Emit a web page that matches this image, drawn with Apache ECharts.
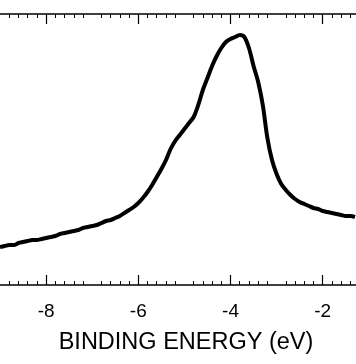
<!DOCTYPE html>
<html>
<head>
<meta charset="utf-8">
<script src="https://cdn.jsdelivr.net/npm/echarts@6/dist/echarts.min.js"></script>
<style>html,body{margin:0;padding:0;background:#fff}#c{width:356px;height:364px}</style>
</head>
<body>
<div id="c"></div>
<script>
const energy = [-9.0,-8.9,-8.8,-8.7,-8.6,-8.5,-8.4,-8.3,-8.2,-8.1,-8.0,-7.9,-7.8,-7.7,-7.6,-7.5,-7.4,-7.3,-7.2,-7.1,-7.0,-6.9,-6.8,-6.7,-6.6,-6.5,-6.4,-6.3,-6.2,-6.1,-6.0,-5.9,-5.8,-5.7,-5.6,-5.5,-5.4,-5.3,-5.2,-5.1,-5.0,-4.9,-4.8,-4.7,-4.6,-4.5,-4.4,-4.3,-4.2,-4.1,-4.0,-3.9,-3.8,-3.7,-3.6,-3.5,-3.4,-3.3,-3.2,-3.1,-3.0,-2.9,-2.8,-2.7,-2.6,-2.5,-2.4,-2.3,-2.2,-2.1,-2.0,-1.9,-1.8,-1.7,-1.6,-1.5,-1.4,-1.3];
const intensity = [38,39,40,40,42,43,44,45,45,46,47,48,49,51,52,53,54,55,57,58,59,60,62,64,65,67,69,72,75,78,82,87,93,100,108,116,125,136,144,150,156,162,168,180,195,207,219,229,237,243,246,248,250,248,237,219,203,180,147,125,111,101,95,90,86,83,81,79,77,76,74,73,72,71,70,69,69,68];
const majorTicks = [-8,-6,-4,-2];
const axisTitle = 'BINDING ENERGY (eV)';

const chart = echarts.init(document.getElementById('c'), null, {renderer:'canvas'});
const data = energy.map((e,i)=>[e,intensity[i]]);
const xmin = -9.0, xmax = -1.278;
const font = 'Liberation Sans, Arial, sans-serif';
function xAxisFor(pos, withText){
  return {
    type:'value', position:pos, min:xmin, max:xmax, interval:1,
    axisLine:{show:true, onZero:false, lineStyle:{color:'#000', width:1.5}},
    axisTick:{show:true, inside:true, length:10, customValues:majorTicks, lineStyle:{color:'#000', width:1.2}},
    minorTick:{show:true, splitNumber:5, length:4, lineStyle:{color:'#000', width:1}},
    axisLabel:{show:withText, customValues:majorTicks, margin:17, color:'#000', fontSize:19, fontFamily:font,
      formatter:v=>String(v)},
    splitLine:{show:false},
    minorSplitLine:{show:false},
    name: withText ? axisTitle : '',
    nameLocation:'middle', nameGap:46,
    nameTextStyle:{color:'#000', fontSize:23.5, fontFamily:font, padding:[0,0,0,16]}
  };
}
chart.setOption({
  animation:false,
  grid:{left:0, right:0, top:14, bottom:79, containLabel:false},
  xAxis:[xAxisFor('bottom', true), xAxisFor('top', false)],
  yAxis:{type:'value', min:0, max:271, show:false},
  series:[{type:'line', xAxisIndex:0, data:data, showSymbol:false, smooth:0.3,
    lineStyle:{color:'#000', width:4}}]
});
</script>
</body>
</html>
